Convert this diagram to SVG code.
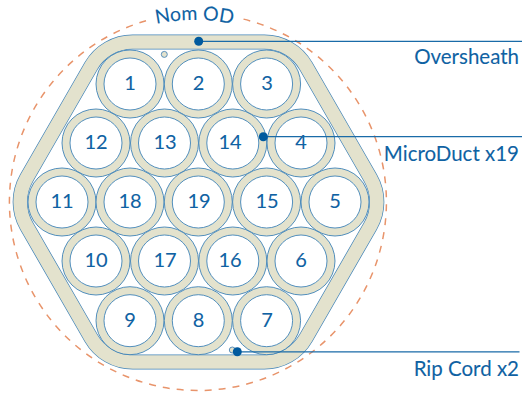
<svg xmlns="http://www.w3.org/2000/svg" width="522" height="393" viewBox="0 0 522 393">
<style>
text{font-family:"Lato","Open Sans","Liberation Sans",sans-serif;fill:#0f62a3;stroke:#0f62a3;stroke-width:.08}
.n{font-size:20px;text-anchor:middle}
.l{font-size:20.500px;text-anchor:end}
.o{fill:#e3e2cd;stroke:#4083b8;stroke-width:.9}
.i{fill:#fff;stroke:#4083b8;stroke-width:.9}
.c{fill:none;stroke:#1a6ba8;stroke-width:1.2}
.d{fill:#005a9e}
.r{fill:#e3e2cd;stroke:#4c87b8;stroke-width:.9}
</style>
<defs>
<path id="hex" d="M132.7 42H264.3A48 48 0 0 1 305.9 66L370.4 178A48 48 0 0 1 370.4 226L305.9 338A48 48 0 0 1 264.3 362H132.7A48 48 0 0 1 91.100 338L26.600 226A48 48 0 0 1 26.600 178L91.100 66A48 48 0 0 1 132.7 42Z" fill="none"/>
<path id="arc" d="M136.500 29.300A186 186 0 0 1 252.500 29.300" fill="none"/>
</defs>
<path id="nom-od" d="M146 20.800A188.500 188.500 0 1 0 241 18.500" fill="none" stroke="#e8946b" stroke-width="1.500" stroke-dasharray="7 7"/>
<g id="oversheath"><use href="#hex" stroke="#4083b8" stroke-width="15"/><use href="#hex" stroke="#e3e2cd" stroke-width="13.600"/></g>
<g id="duct-1"><circle class="o" cx="130" cy="84" r="34"/><circle class="i" cx="130" cy="84" r="26"/><text class="n" x="130" y="90">1</text></g>
<g id="duct-2"><circle class="o" cx="198.300" cy="84" r="34"/><circle class="i" cx="198.300" cy="84" r="26"/><text class="n" x="198.500" y="90">2</text></g>
<g id="duct-3"><circle class="o" cx="266.600" cy="84" r="34"/><circle class="i" cx="266.600" cy="84" r="26"/><text class="n" x="267" y="90">3</text></g>
<g id="duct-12"><circle class="o" cx="96" cy="143" r="34"/><circle class="i" cx="96" cy="143" r="26"/><text class="n" x="96" y="149">12</text></g>
<g id="duct-13"><circle class="o" cx="164.500" cy="143" r="34"/><circle class="i" cx="164.500" cy="143" r="26"/><text class="n" x="165" y="149">13</text></g>
<g id="duct-14"><circle class="o" cx="232.800" cy="143" r="34"/><circle class="i" cx="232.800" cy="143" r="26"/><text class="n" x="230" y="149">14</text></g>
<g id="duct-4"><circle class="o" cx="301" cy="143" r="34"/><circle class="i" cx="301" cy="143" r="26"/><text class="n" x="301" y="149">4</text></g>
<g id="duct-11"><circle class="o" cx="62" cy="202" r="34"/><circle class="i" cx="62" cy="202" r="26"/><text class="n" x="62" y="208">11</text></g>
<g id="duct-18"><circle class="o" cx="130" cy="202" r="34"/><circle class="i" cx="130" cy="202" r="26"/><text class="n" x="130" y="208">18</text></g>
<g id="duct-19"><circle class="o" cx="198.300" cy="202" r="34"/><circle class="i" cx="198.300" cy="202" r="26"/><text class="n" x="199" y="208">19</text></g>
<g id="duct-15"><circle class="o" cx="266.600" cy="202" r="34"/><circle class="i" cx="266.600" cy="202" r="26"/><text class="n" x="267" y="208">15</text></g>
<g id="duct-5"><circle class="o" cx="335" cy="202" r="34"/><circle class="i" cx="335" cy="202" r="26"/><text class="n" x="335" y="208">5</text></g>
<g id="duct-10"><circle class="o" cx="96" cy="261" r="34"/><circle class="i" cx="96" cy="261" r="26"/><text class="n" x="96" y="267">10</text></g>
<g id="duct-17"><circle class="o" cx="164.500" cy="261" r="34"/><circle class="i" cx="164.500" cy="261" r="26"/><text class="n" x="165" y="267">17</text></g>
<g id="duct-16"><circle class="o" cx="232.800" cy="261" r="34"/><circle class="i" cx="232.800" cy="261" r="26"/><text class="n" x="230" y="267">16</text></g>
<g id="duct-6"><circle class="o" cx="301" cy="261" r="34"/><circle class="i" cx="301" cy="261" r="26"/><text class="n" x="301" y="267">6</text></g>
<g id="duct-9"><circle class="o" cx="130" cy="320.700" r="34"/><circle class="i" cx="130" cy="320.700" r="26"/><text class="n" x="130" y="327">9</text></g>
<g id="duct-8"><circle class="o" cx="198.300" cy="320.700" r="34"/><circle class="i" cx="198.300" cy="320.700" r="26"/><text class="n" x="198.500" y="327">8</text></g>
<g id="duct-7"><circle class="o" cx="266.600" cy="320.700" r="34"/><circle class="i" cx="266.600" cy="320.700" r="26"/><text class="n" x="267" y="327">7</text></g>
<g id="rip-cords"><circle class="r" cx="164.300" cy="54.400" r="3"/><circle class="r" cx="232.300" cy="350" r="3"/></g>
<g id="connectors">
<path class="c" d="M198.700 41.300H522M263.300 136.700H522M237.300 351.800H519.500"/>
<circle class="d" cx="198.700" cy="41.300" r="4.500"/><circle class="d" cx="263.300" cy="136.700" r="4.500"/><circle class="d" cx="237.300" cy="351.800" r="4.500"/>
</g>
<g id="labels">
<text style="font-size:19.500px"><textPath href="#arc" startOffset="50%" text-anchor="middle">Nom OD</textPath></text>
<text class="l" x="519" y="64">Oversheath</text>
<text class="l" x="519" y="160.500">MicroDuct x19</text>
<text class="l" x="519" y="376">Rip Cord x2</text>
</g>
</svg>
